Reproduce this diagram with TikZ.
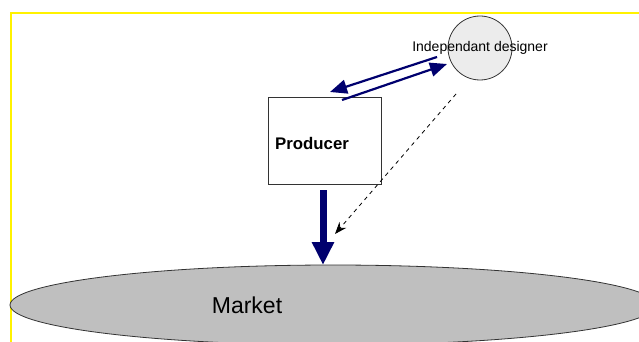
\documentclass[tikz,border=0pt]{standalone}
\usepackage{fontspec}
\setmainfont{Liberation Sans}
\usetikzlibrary{arrows.meta,shapes.geometric}
\definecolor{navy}{RGB}{0,0,110}
\begin{document}
\begin{tikzpicture}[x=1pt,y=-1pt,
  frame/.style={draw=yellow,line width=2pt},
  shapebox/.style={draw=black!80,line width=0.8pt},
  flow/.style={draw=navy,line width=2.2pt,-{Triangle[length=17pt,width=14pt]}},
  bigflow/.style={draw=navy,line width=7pt,-{Triangle[length=23pt,width=21pt]}},
  hint/.style={draw=black,line width=0.8pt,dash pattern=on 4pt off 4pt,-{Stealth[length=12pt,width=9pt]}}]
\useasboundingbox (0,0) rectangle (639,342);
\begin{scope}
\clip (0,0) rectangle (639,342);
\draw[frame] (11,342) -- (11,13) -- (639,13);
\node[shapebox,ellipse,fill=gray!50,minimum width=646pt,minimum height=80pt,inner sep=0pt] (market) at (333,305) {};
\end{scope}
\node[font=\fontsize{23}{26}\selectfont] (mlabel) at (247,305) {Market};
\node[shapebox,circle,fill=gray!15,minimum size=64pt,inner sep=0pt] (designer) at (480,48) {};
\node[font=\fontsize{14}{16}\selectfont] (dlabel) at (480,48) {Independant designer};
\node[shapebox,minimum width=113pt,minimum height=87pt,inner sep=0pt] (producer) at (324.5,140.5) {};
\node[font=\bfseries\fontsize{16.8}{19}\selectfont,anchor=west,inner sep=0pt] (plabel) at (275,143) {Producer};
\coordinate (a1) at (437,57);
\coordinate (a2) at (330,92);
\coordinate (b1) at (342,100);
\coordinate (b2) at (447,64);
\coordinate (p1) at (323,190);
\coordinate (m1) at (323,265);
\coordinate (d1) at (456,94);
\coordinate (d2) at (335,234);
\draw[flow] (a1) -- (a2);
\draw[flow] (b1) -- (b2);
\draw[bigflow] (p1) -- (m1);
\draw[hint] (d1) -- (d2);
\end{tikzpicture}
\end{document}
